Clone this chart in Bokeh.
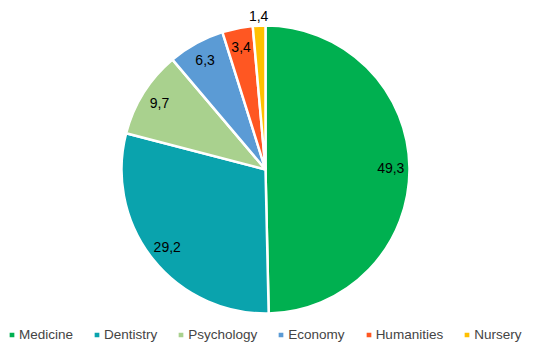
import math
from bokeh.plotting import figure
from bokeh.models import ColumnDataSource, Legend, LegendItem
from bokeh.core.properties import value
from bokeh.embed import file_html
from bokeh.resources import INLINE

categories = ["Medicine", "Dentistry", "Psychology", "Economy", "Humanities", "Nursery"]
values = [49.3, 29.2, 9.7, 6.3, 3.4, 1.4]
colors = ["#00b050", "#0aa3ad", "#a9d18e", "#5b9bd5", "#ff5722", "#ffc000"]

W, H = 539, 348
cx, cy, R = 265, 179, 144

total = sum(values)
starts, ends, lx, ly, labels = [], [], [], [], []
acc = 0.0
for v in values:
    a0 = math.pi / 2 - acc / total * 2 * math.pi
    acc += v
    a1 = math.pi / 2 - acc / total * 2 * math.pi
    starts.append(a0)
    ends.append(a1)
    mid = (a0 + a1) / 2
    rf = 1.07 if v < 2 else 0.87
    lx.append(cx + R * rf * math.cos(mid))
    ly.append(cy + R * rf * math.sin(mid))
    labels.append(f"{v:.1f}".replace(".", ","))

src = ColumnDataSource(dict(start=starts, end=ends, color=colors, cat=categories,
                            lx=lx, ly=ly, lab=labels))

p = figure(width=W, height=H, x_range=(0, W), y_range=(0, H),
           output_backend="svg", toolbar_location=None, min_border=0)
p.axis.visible = False
p.grid.visible = False
p.outline_line_color = None

r = p.wedge(x=cx, y=cy, radius=R, start_angle="start", end_angle="end",
            direction="clock", fill_color="color", line_color="white",
            line_width=2.5, source=src)

p.text(x="lx", y="ly", text="lab", source=src, text_align="center",
       text_baseline="middle", text_font=value("Liberation Sans"),
       text_font_size="14px", text_color="#000000")

items = [LegendItem(label=c, renderers=[r], index=i) for i, c in enumerate(categories)]
legend = Legend(items=items, orientation="horizontal", location=(7, 6),
                glyph_width=9, glyph_height=9, label_standoff=3, spacing=19,
                padding=0, margin=0, border_line_color=None,
                background_fill_alpha=0,
                label_text_font="Liberation Sans", label_text_font_size="13.5px",
                label_height=14)
p.add_layout(legend)

open("out.html", "w").write(file_html(p, INLINE))
